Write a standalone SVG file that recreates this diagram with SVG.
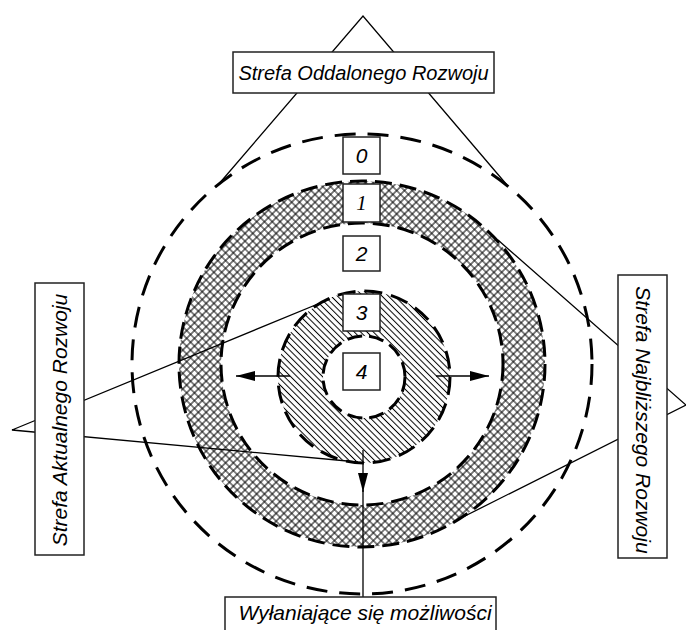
<svg xmlns="http://www.w3.org/2000/svg" width="686" height="630" viewBox="0 0 686 630">
<style>
.lbl{font-family:"Liberation Sans",Arial,sans-serif;font-style:italic;fill:#000}
.box{fill:#fff;stroke:#222;stroke-width:1.5}
.ln{stroke:#000;stroke-width:1.3;fill:none}
.dashA{fill:none;stroke:#000;stroke-width:3;stroke-dasharray:21 12}
.dashB{fill:none;stroke:#000;stroke-width:3;stroke-dasharray:17 8}
.dashC{fill:none;stroke:#000;stroke-width:3;stroke-dasharray:18 9}
.dashD{fill:none;stroke:#000;stroke-width:3;stroke-dasharray:15 7}
</style>
<defs>
<pattern id="cross" width="5.5" height="5.5" patternUnits="userSpaceOnUse" patternTransform="rotate(45)">
<path d="M0,2.75 H5.5 M2.75,0 V5.5" stroke="#000" stroke-width="1"/>
</pattern>
<pattern id="diag" width="4.5" height="4.5" patternUnits="userSpaceOnUse" patternTransform="rotate(45)">
<path d="M0,2.25 H4.5" stroke="#000" stroke-width="1"/>
</pattern>
<marker id="arr" markerUnits="userSpaceOnUse" markerWidth="19" markerHeight="10" refX="19" refY="5" orient="auto">
<path d="M0,0 L19,5 L0,10 Z" fill="#000"/>
</marker>
</defs>

<g id="zones">
<path id="ring1" d="M179,364 a183,183 0 1,0 366,0 a183,183 0 1,0 -366,0 Z M221,364 a141,141 0 1,0 282,0 a141,141 0 1,0 -282,0 Z" fill="url(#cross)" fill-rule="evenodd"/>
<path id="ring3" d="M278,377 a86,86 0 1,0 172,0 a86,86 0 1,0 -172,0 Z M323,377 a41,41 0 1,0 82,0 a41,41 0 1,0 -82,0 Z" fill="url(#diag)" fill-rule="evenodd"/>
<circle cx="362" cy="364" r="230" class="dashA"/>
<circle cx="362" cy="364" r="183" class="dashB"/>
<circle cx="362" cy="364" r="141" class="dashB"/>
<circle cx="364" cy="377" r="86" class="dashC"/>
<circle cx="364" cy="377" r="41" class="dashD"/>
</g>

<g id="connectors">
<path class="ln" d="M218,185 L363,16 L507,185"/>
<path class="ln" d="M330,299 L12,430 L358,462"/>
<path class="ln" d="M498,240 L686,405 L463,517"/>
<path class="ln" d="M290,376 L236,376" marker-end="url(#arr)"/>
<path class="ln" d="M436,376 L489,376" marker-end="url(#arr)"/>
<path class="ln" d="M363,450 L363,492" marker-end="url(#arr)"/>
<path class="ln" d="M363,490 L363,597"/>
</g>

<g id="node-oddalony">
<rect class="box" x="233" y="52" width="261" height="41"/>
<text class="lbl" x="363.5" y="80" font-size="20" text-anchor="middle">Strefa Oddalonego Rozwoju</text>
</g>
<g id="node-aktualny">
<rect class="box" x="35" y="283" width="49" height="272"/>
<text class="lbl" x="59.5" y="427" font-size="21" text-anchor="middle" transform="rotate(-90 59.5 420)">Strefa Aktualnego Rozwoju</text>
</g>
<g id="node-najblizszy">
<rect class="box" x="618" y="275" width="49" height="283"/>
<text class="lbl" x="642.5" y="427" font-size="21" text-anchor="middle" transform="rotate(90 642.5 420)">Strefa Najbliższego Rozwoju</text>
</g>
<g id="node-mozliwosci">
<rect class="box" x="225" y="597" width="271" height="45"/>
<text class="lbl" x="365" y="620" font-size="21" text-anchor="middle">Wyłaniające się możliwości</text>
</g>
<g id="node-0">
<rect class="box" x="343" y="137" width="37" height="37"/>
<text class="lbl" x="361.5" y="163" font-size="21" text-anchor="middle">0</text>
</g>
<g id="node-1">
<rect class="box" x="343" y="184" width="37" height="38"/>
<text class="lbl" x="361.5" y="210" font-size="21" text-anchor="middle" style="font-family:'Liberation Serif','Times New Roman',serif">1</text>
</g>
<g id="node-2">
<rect class="box" x="343" y="236" width="37" height="35"/>
<text class="lbl" x="361.5" y="261" font-size="21" text-anchor="middle">2</text>
</g>
<g id="node-3">
<rect class="box" x="343" y="294" width="37" height="37"/>
<text class="lbl" x="361.5" y="320" font-size="21" text-anchor="middle">3</text>
</g>
<g id="node-4">
<rect class="box" x="343" y="353" width="37" height="37"/>
<text class="lbl" x="361.5" y="379" font-size="21" text-anchor="middle">4</text>
</g>
</svg>
